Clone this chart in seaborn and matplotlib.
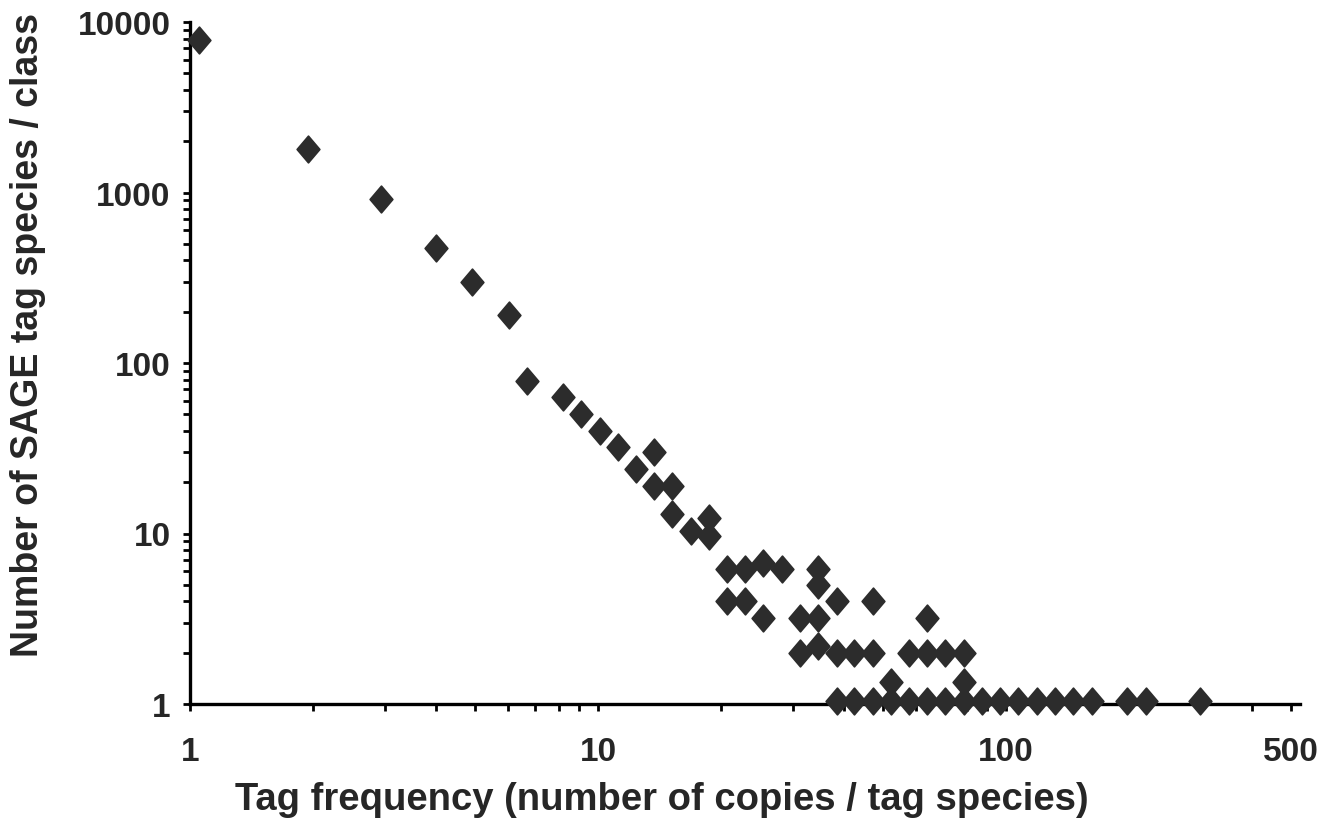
import matplotlib
matplotlib.use("Agg")
import matplotlib.pyplot as plt
import seaborn as sns
import numpy as np
import pandas as pd
from matplotlib.path import Path
from matplotlib.markers import MarkerStyle
from matplotlib.ticker import FixedLocator, LogLocator, NullFormatter, FixedFormatter

# ---- data ----
tag_frequency = [
    1.05, 1.95, 2.94, 4.0, 4.92, 6.04, 6.69, 8.2, 9.1, 10.1, 11.2, 12.4,
    13.7, 13.7, 15.2, 15.2, 16.9, 18.7, 18.7,
    20.7, 20.7, 22.9, 22.9, 25.4, 25.4, 28.2,
    31.2, 31.2, 34.6, 34.6, 34.6, 34.6,
    38.4, 38.4, 38.4, 42.5, 42.5, 47.1, 47.1, 47.1,
    52.2, 52.2, 57.9, 57.9, 64.1, 64.1, 64.1,
    71.0, 71.0, 78.7, 78.7, 78.7,
    87.2, 96.7, 107, 119, 132, 146, 162, 198, 220, 299,
]
species_count = [
    7800, 1800, 920, 470, 300, 190, 78, 63, 50, 40, 32, 24,
    30, 19, 19, 13, 10.4, 12.3, 9.7,
    6.2, 4.0, 6.2, 4.0, 6.7, 3.2, 6.2,
    3.2, 2.0, 6.2, 5.0, 3.2, 2.2,
    4.0, 2.0, 1.04, 2.0, 1.04, 4.0, 2.0, 1.04,
    1.35, 1.04, 2.0, 1.04, 3.2, 2.0, 1.04,
    2.0, 1.04, 2.0, 1.35, 1.04,
    1.04, 1.04, 1.04, 1.04, 1.04, 1.04, 1.04, 1.04, 1.04, 1.04,
]
x_ticks = [1, 10, 100, 500]
x_tick_labels = ["1", "10", "100", "500"]
y_ticks = [1, 10, 100, 1000, 10000]
y_tick_labels = ["1", "10", "100", "1000", "10000"]
x_label = "Tag frequency (number of copies / tag species)"
y_label = "Number of SAGE tag species / class"

df = pd.DataFrame({"freq": tag_frequency, "count": species_count})

sns.set_style("white")
plt.rcParams["font.family"] = ["Liberation Sans", "DejaVu Sans"]
plt.rcParams["font.weight"] = "bold"

fig = plt.figure(figsize=(13.23, 8.2), dpi=100)
ax = fig.add_axes([190 / 1323, 115 / 820, 1110 / 1323, 682 / 820])

diamond = Path([(0, 1), (0.85, 0), (0, -1), (-0.85, 0), (0, 1)],
               [Path.MOVETO, Path.LINETO, Path.LINETO, Path.LINETO, Path.CLOSEPOLY])
mk = MarkerStyle(diamond, joinstyle="round")

mcolor = "#2c2c2c"
sns.scatterplot(data=df, x="freq", y="count", ax=ax, marker=mk, s=370,
                color=mcolor, edgecolor=mcolor, linewidth=1.2,
                clip_on=False, zorder=3, legend=False)

ax.set_xscale("log")
ax.set_yscale("log")
ax.set_xlim(1, 525)
ax.set_ylim(1, 10000)

ax.xaxis.set_major_locator(FixedLocator(x_ticks))
ax.xaxis.set_major_formatter(FixedFormatter(x_tick_labels))
ax.xaxis.set_minor_locator(LogLocator(base=10, subs=np.arange(2, 10), numticks=20))
ax.xaxis.set_minor_formatter(NullFormatter())
ax.yaxis.set_major_locator(FixedLocator(y_ticks))
ax.yaxis.set_major_formatter(FixedFormatter(y_tick_labels))
ax.yaxis.set_minor_locator(LogLocator(base=10, subs=np.arange(2, 10), numticks=20))
ax.yaxis.set_minor_formatter(NullFormatter())

for s in ["top", "right"]:
    ax.spines[s].set_visible(False)
for s in ["left", "bottom"]:
    ax.spines[s].set_linewidth(2.4)
    ax.spines[s].set_color("black")
    ax.spines[s].set_zorder(2.5)

ax.tick_params(axis="both", which="both", direction="out", color="black",
               width=2.0, length=5)
ax.tick_params(axis="x", which="major", labelsize=24, pad=18, bottom=True)
ax.tick_params(axis="y", which="major", labelsize=24, pad=9, left=True)
ax.tick_params(axis="x", which="minor", bottom=True)
ax.tick_params(axis="y", which="minor", left=True)
for lab in ax.get_xticklabels() + ax.get_yticklabels():
    lab.set_fontweight("bold")

ax.set_xlabel(x_label, fontsize=27.5, fontweight="bold")
ax.set_ylabel(y_label, fontsize=27, fontweight="bold")
ax.xaxis.set_label_coords(0.425, -0.113)
ax.yaxis.set_label_coords(-0.13, 0.5425)

ax.grid(False)
fig.savefig("out.png", dpi=100, facecolor="white")
